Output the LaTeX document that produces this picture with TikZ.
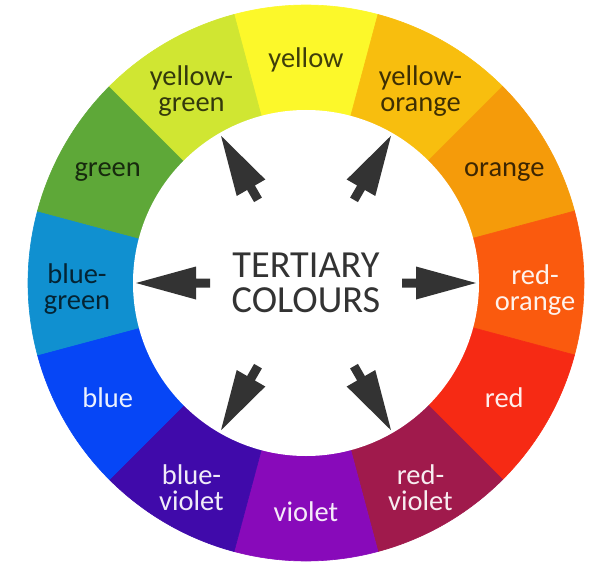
\documentclass[tikz,border=0pt]{standalone}
\usepackage{fontspec}
\setmainfont{Carlito}
\usepackage{tikz}
\usetikzlibrary{calc}
\definecolor{wheelyellow}{RGB}{252, 248, 42}
\definecolor{yelloworange}{RGB}{248, 190, 14}
\definecolor{wheelorange}{RGB}{245, 155, 10}
\definecolor{redorange}{RGB}{250, 90, 14}
\definecolor{wheelred}{RGB}{246, 42, 20}
\definecolor{redviolet}{RGB}{160, 26, 76}
\definecolor{wheelviolet}{RGB}{136, 10, 186}
\definecolor{blueviolet}{RGB}{64, 10, 170}
\definecolor{wheelblue}{RGB}{6, 70, 246}
\definecolor{bluegreen}{RGB}{16, 144, 208}
\definecolor{wheelgreen}{RGB}{94, 168, 56}
\definecolor{yellowgreen}{RGB}{208, 230, 50}
\definecolor{arrowgray}{RGB}{51, 51, 51}

\begin{document}
\begin{tikzpicture}[x=1pt, y=1pt,
  colourname/.style={font=\fontsize{28.5}{26}\selectfont, align=center, inner sep=0pt},
  darktext/.style={text=black, text opacity=0.75},
  lighttext/.style={text=white, text opacity=0.92}]
  \useasboundingbox (0,0) rectangle (596,566);
  \coordinate (O) at (306,283);
  % the twelve segments
  \foreach \a/\col in {90/wheelyellow, 60/yelloworange, 30/wheelorange, 0/redorange,
      -30/wheelred, -60/redviolet, -90/wheelviolet, -120/blueviolet,
      -150/wheelblue, 180/bluegreen, 150/wheelgreen, 120/yellowgreen}
    \filldraw[fill=\col, draw=\col, line width=0.6pt] (O) -- ++(\a-15:278)
      arc[start angle=\a-15, end angle=\a+15, radius=278] -- cycle;
  \fill[white] (O) circle[radius=173];
  % colour names
  \foreach \a/\t/\s/\dy [count=\i] in {90/{yellow}/darktext/-6,
      60/{yellow-\\orange}/darktext/-6, 30/{orange}/darktext/-4,
      0/{red-\\orange}/lighttext/-7, -30/{red}/lighttext/0,
      -60/{red-\\violet}/lighttext/-6, -90/{violet}/lighttext/0,
      -120/{blue-\\violet}/lighttext/-6, -150/{blue}/lighttext/0,
      180/{blue-\\green}/darktext/-6, 150/{green}/darktext/-4,
      120/{yellow-\\green}/darktext/-6}
    \node[colourname, \s, yshift=\dy] (name\i) at ($(O)+(\a:229)$) {\t};
  % arrows
  \foreach \a in {0,60,...,300}
    \fill[arrowgray, shift={(O)}, rotate=\a] (170,0) -- (110,16.5) -- (110,4.5)
      -- (96,4.5) -- (96,-4.5) -- (110,-4.5) -- (110,-16.5) -- cycle;
  \node[font=\fontsize{38.3}{35}\selectfont, align=center, text=arrowgray, inner sep=0pt]
    (title) at (O) {TERTIARY\\COLOURS};
\end{tikzpicture}
\end{document}
